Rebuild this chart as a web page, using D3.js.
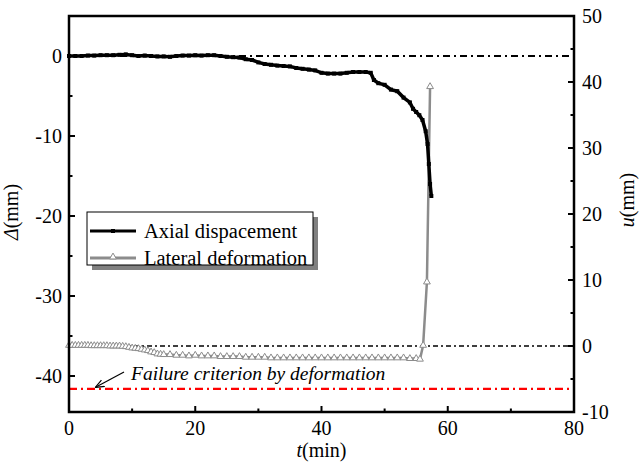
<!DOCTYPE html>
<html>
<head>
<meta charset="utf-8">
<script src="https://cdn.jsdelivr.net/npm/d3@7"></script>
<style>
  body { margin: 0; background: #fff; }
  text { font-family: "Liberation Serif", "Times New Roman", serif; }
</style>
</head>
<body>
<div id="chart"></div>
<script>
"use strict";

// axial displacement (left axis, mm)
var axialT = [0,1,2,3,4,5,6,7,8,9,10,11,12,13,14,15,16,17,18,19,20,21,22,23,24,25,26,27,28,29,
  30,31,32,33,34,35,36,37,38,39,40,41,42,43,44,45,46,47,47.8,48.3,49,50,51,52,53,54,54.5,55,55.5,56,56.5,56.8,57,57.2,57.4];
var axialD = [0,0,0,0.05,0.05,0.1,0.1,0.1,0.15,0.2,0.1,0,0.05,0,-0.05,-0.05,-0.1,0,0.05,0.05,0.1,0.05,0.1,0.1,0,-0.1,-0.15,-0.2,-0.4,-0.5,
  -0.8,-1.0,-1.1,-1.2,-1.25,-1.3,-1.5,-1.6,-1.7,-1.8,-2.1,-2.2,-2.2,-2.2,-2.1,-2.0,-2.0,-2.0,-2.1,-3.0,-3.4,-3.6,-4.2,-4.4,-5.2,-5.8,-6.6,-7.0,-7.4,-8.0,-9.4,-11,-13.5,-16,-17.5];

// lateral deformation (right axis, mm)
var latT = [0,0.5,1,1.5,2,2.5,3,3.5,4,4.5,5,5.5,6,6.5,7,7.5,8,8.5,9,9.5,10,10.5,11,11.5,12,12.5,13,13.5,14,14.5,
  15,16,17,18,19,20,21,22,23,24,25,26,27,28,29,30,31,32,33,34,35,36,37,38,39,40,41,42,43,44,45,46,47,48,49,50,51,52,53,54,55,55.6,56.1,56.7,57.2];
var latU = [0.1,0.1,0.1,0.1,0.1,0.1,0.1,0.05,0.05,0.05,0.05,0.05,0.05,0,0,0,0,-0.05,-0.1,-0.2,-0.3,-0.35,-0.4,-0.5,-0.6,-0.7,-0.9,-1.0,-1.2,-1.25,
  -1.3,-1.3,-1.4,-1.4,-1.5,-1.4,-1.5,-1.5,-1.5,-1.6,-1.6,-1.6,-1.6,-1.7,-1.7,
  -1.7,-1.7,-1.8,-1.8,-1.8,-1.8,-1.8,-1.8,-1.8,-1.8,-1.8,-1.8,-1.8,-1.8,-1.8,-1.8,-1.8,-1.8,-1.8,-1.8,-1.8,-1.8,-1.8,-1.8,-1.9,-1.9,-2.0,0.1,9.7,39.3];

var failureU = -6.5;   // failure criterion level (right axis)

var xTicks = [0,20,40,60,80];
var leftTicks = [0,-10,-20,-30,-40];
var rightTicks = [-10,0,10,20,30,40,50];

var width = 640, height = 462;
var margin = {top: 16, right: 66, bottom: 50, left: 69};
var pw = width - margin.left - margin.right,
    ph = height - margin.top - margin.bottom;

var x = d3.scaleLinear().domain([0, 80]).range([0, pw]);
var yL = d3.scaleLinear().domain([-44.5, 5]).range([ph, 0]);
var yR = d3.scaleLinear().domain([-10, 50]).range([ph, 0]);

var svg = d3.select("#chart").append("svg")
  .attr("width", width).attr("height", height);

var defs = svg.append("defs");
defs.append("marker").attr("id", "arr")
  .attr("viewBox", "0 0 10 10").attr("refX", 9).attr("refY", 5)
  .attr("markerWidth", 9).attr("markerHeight", 9).attr("orient", "auto-start-reverse")
  .attr("markerUnits", "userSpaceOnUse")
  .append("path").attr("d", "M0,1 L10,5 L0,9").attr("fill", "none").attr("stroke", "#000").attr("stroke-width", 1.3);

var g = svg.append("g").attr("transform", "translate(" + margin.left + "," + margin.top + ")");

// reference lines
g.append("line").attr("x1", 0).attr("x2", pw).attr("y1", yL(0)).attr("y2", yL(0))
  .attr("stroke", "#000").attr("stroke-width", 2).attr("stroke-dasharray", "7,4,2,4");
g.append("line").attr("x1", 0).attr("x2", pw).attr("y1", yR(0)).attr("y2", yR(0))
  .attr("stroke", "#000").attr("stroke-width", 1.3).attr("stroke-dasharray", "5,3,2,3");
g.append("line").attr("x1", 0).attr("x2", pw).attr("y1", yR(failureU)).attr("y2", yR(failureU))
  .attr("stroke", "#ff0000").attr("stroke-width", 2.2).attr("stroke-dasharray", "8,4,2,4");

// lateral deformation
var latData = latT.map(function(t, i) { return [t, latU[i]]; });
g.append("path").datum(latData)
  .attr("fill", "none").attr("stroke", "#8c8c8c").attr("stroke-width", 2.5)
  .attr("d", d3.line().x(function(d) { return x(d[0]); }).y(function(d) { return yR(d[1]); }));
var tri = d3.symbol().type(d3.symbolTriangle).size(20);
g.selectAll(".lat").data(latData).enter().append("path")
  .attr("transform", function(d) { return "translate(" + x(d[0]) + "," + yR(d[1]) + ")"; })
  .attr("d", tri).attr("fill", "#fff").attr("stroke", "#8c8c8c").attr("stroke-width", 1);

// axial displacement
var axData = axialT.map(function(t, i) { return [t, axialD[i]]; });
g.append("path").datum(axData)
  .attr("fill", "none").attr("stroke", "#000").attr("stroke-width", 3.5)
  .attr("d", d3.line().x(function(d) { return x(d[0]); }).y(function(d) { return yL(d[1]); }));
g.selectAll(".ax").data(axData).enter().append("rect")
  .attr("x", function(d) { return x(d[0]) - 2; }).attr("y", function(d) { return yL(d[1]) - 2; })
  .attr("width", 4).attr("height", 4).attr("fill", "#000");

// frame
g.append("rect").attr("width", pw).attr("height", ph)
  .attr("fill", "none").attr("stroke", "#000").attr("stroke-width", 2.5);

// ticks (inward)
function ticksIn(vals, scale, len, side) {
  vals.forEach(function(v) {
    var l = g.append("line").attr("stroke", "#000").attr("stroke-width", 2);
    if (side === "bottom") l.attr("x1", x(v)).attr("x2", x(v)).attr("y1", ph).attr("y2", ph - len);
    if (side === "left") l.attr("x1", 0).attr("x2", len).attr("y1", scale(v)).attr("y2", scale(v));
    if (side === "right") l.attr("x1", pw).attr("x2", pw - len).attr("y1", scale(v)).attr("y2", scale(v));
  });
}
ticksIn(xTicks, x, 6, "bottom");
ticksIn([10,30,50,70], x, 3.5, "bottom");
ticksIn(leftTicks, yL, 6, "left");
ticksIn([5,-5,-15,-25,-35], yL, 3.5, "left");
ticksIn(rightTicks, yR, 6, "right");
ticksIn([-5,5,15,25,35,45], yR, 3.5, "right");

// tick labels
var fs = 20;
g.selectAll(".xl").data(xTicks).enter().append("text")
  .attr("x", function(d) { return x(d); }).attr("y", ph + 23)
  .attr("text-anchor", "middle").attr("font-size", fs).text(function(d) { return d; });
g.selectAll(".yl").data(leftTicks).enter().append("text")
  .attr("x", -7).attr("y", function(d) { return yL(d) + 7; })
  .attr("text-anchor", "end").attr("font-size", fs).text(function(d) { return d; });
g.selectAll(".yr").data(rightTicks).enter().append("text")
  .attr("x", pw + 8).attr("y", function(d) { return yR(d) + 7; })
  .attr("text-anchor", "start").attr("font-size", fs).text(function(d) { return d; });

// axis titles
var xt = svg.append("text").attr("x", margin.left + pw / 2).attr("y", 457)
  .attr("text-anchor", "middle").attr("font-size", fs);
xt.append("tspan").attr("font-style", "italic").text("t");
xt.append("tspan").text("(min)");

var lt = svg.append("text").attr("transform", "translate(18,212) rotate(-90)")
  .attr("text-anchor", "middle").attr("font-size", fs);
lt.append("tspan").attr("font-style", "italic").text("Δ");
lt.append("tspan").text("(mm)");

var rt = svg.append("text").attr("transform", "translate(634,200) rotate(-90)")
  .attr("text-anchor", "middle").attr("font-size", fs);
rt.append("tspan").attr("font-style", "italic").text("u");
rt.append("tspan").text("(mm)");

// legend
var lg = svg.append("g").attr("transform", "translate(87,212)");
lg.append("rect").attr("x", 5).attr("y", 5).attr("width", 226).attr("height", 53).attr("fill", "#808080");
lg.append("rect").attr("width", 226).attr("height", 53).attr("fill", "#fff").attr("stroke", "#000").attr("stroke-width", 1);
lg.append("line").attr("x1", 3).attr("x2", 49).attr("y1", 19).attr("y2", 19).attr("stroke", "#000").attr("stroke-width", 3);
lg.append("rect").attr("x", 24).attr("y", 17).attr("width", 4).attr("height", 4).attr("fill", "#000");
lg.append("line").attr("x1", 3).attr("x2", 49).attr("y1", 46).attr("y2", 46).attr("stroke", "#8c8c8c").attr("stroke-width", 3);
lg.append("path").attr("transform", "translate(26,45)").attr("d", tri).attr("fill", "#fff").attr("stroke", "#8c8c8c");
lg.append("text").attr("x", 57).attr("y", 26).attr("font-size", 20.5).text("Axial dispacement");
lg.append("text").attr("x", 57).attr("y", 53).attr("font-size", 20.5).text("Lateral deformation");

// annotation
svg.append("text").attr("x", 131).attr("y", 380).attr("font-size", 19.5).attr("font-style", "italic")
  .text("Failure criterion by deformation");
svg.append("line").attr("x1", 124).attr("y1", 372).attr("x2", 96).attr("y2", 387)
  .attr("stroke", "#000").attr("stroke-width", 1.2).attr("marker-end", "url(#arr)");
</script>
</body>
</html>
